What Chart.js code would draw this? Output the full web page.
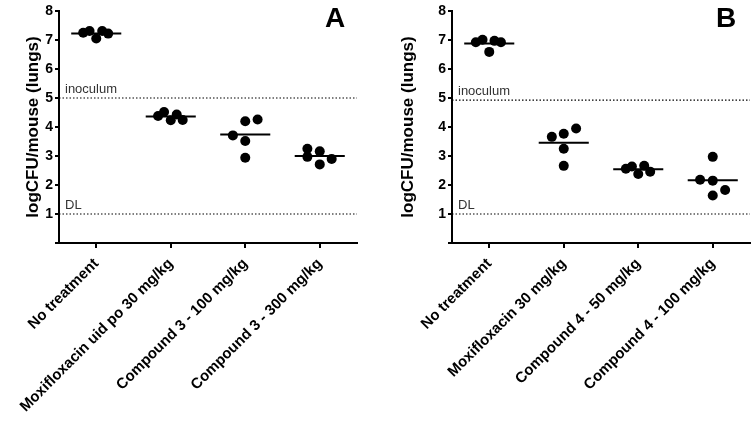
<!DOCTYPE html>
<html>
<head>
<meta charset="utf-8">
<script src="https://cdn.jsdelivr.net/npm/chart.js@4"></script>
<style>
  html, body { margin: 0; padding: 0; background: #fff; }
  #wrap { position: relative; width: 755px; height: 422px; }
  canvas { position: absolute; top: 0; }
</style>
</head>
<body>
<div id="wrap">
  <canvas id="chartA" width="375" height="422" style="left:0"></canvas>
  <canvas id="chartB" width="380" height="422" style="left:375px"></canvas>
</div>
<script>
// group names on the x axis
const groupsA = ['No treatment', 'Moxifloxacin uid po 30 mg/kg', 'Compound 3 - 100 mg/kg', 'Compound 3 - 300 mg/kg'];
const groupsB = ['No treatment', 'Moxifloxacin 30 mg/kg', 'Compound 4 - 50 mg/kg', 'Compound 4 - 100 mg/kg'];

// logCFU per mouse, one row per group
const valuesA = [
  [7.25, 7.31, 7.05, 7.31, 7.22],
  [4.38, 4.52, 4.23, 4.43, 4.24],
  [3.71, 4.20, 3.52, 2.94, 4.26],
  [3.25, 2.97, 3.16, 2.71, 2.90]
];
const valuesB = [
  [6.92, 7.01, 6.59, 6.97, 6.92],
  [3.66, 3.77, 3.25, 2.66, 3.95],
  [2.56, 2.64, 2.38, 2.66, 2.46],
  [2.18, 2.97, 2.15, 1.64, 1.83]
];

// horizontal scatter of the dots inside each group (category units)
const jitterA = [
  [-0.175, -0.09, 0, 0.08, 0.16],
  [-0.17, -0.09, 0, 0.08, 0.16],
  [-0.166, 0, 0, 0, 0.166],
  [-0.166, -0.166, 0, 0, 0.16]
];
const jitterB = [
  [-0.18, -0.09, 0, 0.07, 0.157],
  [-0.16, 0, 0, 0, 0.166],
  [-0.166, -0.085, 0, 0.08, 0.16],
  [-0.17, 0, 0, 0, 0.166]
];

// group means (the short bars)
const meansA = [7.22, 4.36, 3.74, 3.00];
const meansB = [6.88, 3.46, 2.54, 2.16];

// reference levels
const inoculumA = 5.0, dlA = 1.0;
const inoculumB = 4.93, dlB = 1.0;

const yTicks = [0, 1, 2, 3, 4, 5, 6, 7, 8];
const yTitle = 'logCFU/mouse (lungs)';

const FONT = '"Liberation Sans", Arial, Helvetica, sans-serif';

const annotate = {
  id: 'annotate',
  afterDatasetsDraw(chart, args, opts) {
    const { ctx, chartArea, scales: { x, y } } = chart;
    ctx.save();
    ctx.fillStyle = '#333';
    ctx.font = '13px ' + FONT;
    ctx.textAlign = 'left';
    ctx.textBaseline = 'alphabetic';
    const x0 = x.getPixelForValue(-0.5) + 6;
    ctx.fillText('inoculum', x0, y.getPixelForValue(opts.inoculum) - 5);
    ctx.fillText('DL', x0, y.getPixelForValue(opts.dl) - 5);
    ctx.fillStyle = '#000';
    ctx.font = 'bold 28px ' + FONT;
    ctx.textAlign = 'center';
    ctx.fillText(opts.letter, chartArea.right - opts.letterDx, chartArea.top + 16);
    ctx.restore();
  }
};

function makePanel(id, groups, values, jitter, means, inoculum, dl, letter, yWidth, padRight, letterDx) {
  const datasets = [];

  // dotted reference lines
  [inoculum, dl].forEach(v => {
    datasets.push({
      data: [{ x: -0.5, y: v }, { x: 3.5, y: v }],
      showLine: true,
      borderColor: '#000',
      borderWidth: 1.2,
      borderDash: [1.5, 2],
      pointRadius: 0
    });
  });

  // mean bars
  means.forEach((m, i) => {
    datasets.push({
      data: [{ x: i - 0.336, y: m }, { x: i + 0.336, y: m }],
      showLine: true,
      borderColor: '#000',
      borderWidth: 2,
      pointRadius: 0
    });
  });

  // individual mice
  const pts = [];
  values.forEach((row, i) => {
    row.forEach((v, j) => pts.push({ x: i + jitter[i][j], y: v }));
  });
  datasets.push({
    data: pts,
    pointRadius: 5,
    pointHoverRadius: 5,
    backgroundColor: '#000',
    borderWidth: 0
  });

  new Chart(document.getElementById(id), {
    type: 'scatter',
    data: { datasets },
    plugins: [annotate],
    options: {
      responsive: false,
      animation: false,
      layout: { padding: { left: 23, right: padRight, top: 11, bottom: 0 } },
      plugins: {
        legend: { display: false },
        tooltip: { enabled: false },
        annotate: { inoculum, dl, letter, letterDx }
      },
      scales: {
        x: {
          type: 'linear',
          min: -0.5,
          max: 3.5,
          afterBuildTicks: s => { s.ticks = groups.map((g, i) => ({ value: i })); },
          afterFit: s => { s.height = 179; },
          ticks: {
            autoSkip: false,
            minRotation: 45,
            maxRotation: 45,
            padding: 7,
            color: '#000',
            font: { family: FONT, size: 15, weight: 'bold' },
            callback: v => groups[v]
          },
          grid: { display: true, drawOnChartArea: false, drawTicks: true, tickLength: 5, color: '#000', lineWidth: 2 },
          border: { display: true, color: '#000', width: 2 }
        },
        y: {
          min: 0,
          max: 8,
          afterBuildTicks: s => { s.ticks = yTicks.map(v => ({ value: v })); },
          afterFit: s => { s.width = yWidth; },
          ticks: {
            padding: 2,
            color: '#000',
            font: { family: FONT, size: 14, weight: 'bold' },
            callback: v => (v === 0 ? '' : v)
          },
          grid: { display: true, drawOnChartArea: false, drawTicks: true, tickLength: 4, color: '#000', lineWidth: 2 },
          border: { display: true, color: '#000', width: 2 },
          title: {
            display: true,
            text: yTitle,
            color: '#000',
            padding: 0,
            font: { family: FONT, size: 17, weight: 'bold' }
          }
        }
      }
    }
  });
}

makePanel('chartA', groupsA, valuesA, jitterA, meansA, inoculumA, dlA, 'A', 36, 18, 22);
makePanel('chartB', groupsB, valuesB, jitterB, meansB, inoculumB, dlB, 'B', 54, 5, 24);
</script>
</body>
</html>
